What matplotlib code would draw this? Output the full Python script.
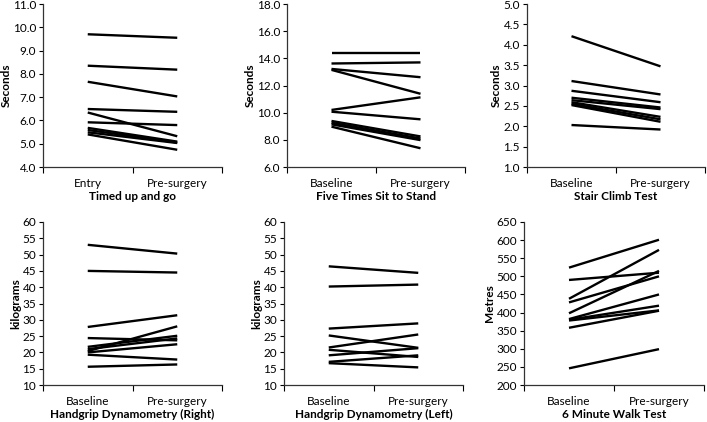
import matplotlib
matplotlib.use("Agg")
import matplotlib.pyplot as plt

plt.rcParams['font.family'] = ['Lato', 'DejaVu Sans']

# Timed up and go (seconds)
tug_entry = [9.70, 8.35, 7.66, 6.49, 6.34, 5.92, 5.68, 5.59, 5.49, 5.40]
tug_pre = [9.55, 8.18, 7.03, 6.37, 5.32, 5.80, 5.09, 5.05, 5.03, 4.74]

# Five times sit to stand (seconds)
ftsts_base = [14.42, 13.62, 13.22, 13.15, 10.20, 10.07, 9.39, 9.26, 9.14, 8.97]
ftsts_pre = [14.42, 13.70, 12.61, 11.39, 11.13, 9.51, 8.25, 8.10, 7.98, 7.38]

# Stair climb test (seconds)
sct_base = [4.21, 3.11, 2.87, 2.70, 2.64, 2.59, 2.55, 2.52, 2.03]
sct_pre = [3.47, 2.78, 2.59, 2.46, 2.42, 2.23, 2.17, 2.11, 1.92]

# Handgrip right (kg)
hgr_base = [53.0, 45.0, 27.8, 24.4, 21.7, 20.4, 21.0, 20.0, 19.3, 15.6]
hgr_pre = [50.3, 44.5, 31.4, 23.7, 25.1, 28.0, 24.3, 22.5, 17.8, 16.3]

# Handgrip left (kg)
hgl_base = [46.4, 40.2, 27.3, 25.2, 21.5, 20.8, 19.1, 17.1, 16.7]
hgl_pre = [44.4, 40.8, 28.9, 21.4, 25.5, 18.6, 21.3, 19.1, 15.4]

# 6 minute walk test (metres)
mwt_base = [524, 490, 438, 428, 398, 382, 380, 378, 358, 246]
mwt_pre = [601, 510, 573, 500, 515, 450, 419, 406, 405, 299]

panels = [
    ("Timed up and go", "Seconds", ["Entry", "Pre-surgery"], tug_entry, tug_pre,
     (4, 11), 1.0, "{:.1f}"),
    ("Five Times Sit to Stand", "Seconds", ["Baseline", "Pre-surgery"], ftsts_base, ftsts_pre,
     (6, 18), 2.0, "{:.1f}"),
    ("Stair Climb Test", "Seconds", ["Baseline", "Pre-surgery"], sct_base, sct_pre,
     (1, 5), 0.5, "{:.1f}"),
    ("Handgrip Dynamometry (Right)", "kilograms", ["Baseline", "Pre-surgery"], hgr_base, hgr_pre,
     (10, 60), 5, "{:.0f}"),
    ("Handgrip Dynamometry (Left)", "kilograms", ["Baseline", "Pre-surgery"], hgl_base, hgl_pre,
     (10, 60), 5, "{:.0f}"),
    ("6 Minute Walk Test", "Metres", ["Baseline", "Pre-surgery"], mwt_base, mwt_pre,
     (200, 650), 50, "{:.0f}"),
]

W, H = 707, 422
# axes boxes in pixels: left, right, top, bottom
boxes = [
    (43, 222, 4, 167), (287, 465, 4, 167), (527, 705, 4, 167),
    (43, 222, 222, 385), (284, 463, 222, 385), (524, 704, 222, 385),
]

fig = plt.figure(figsize=(W / 100, H / 100), dpi=100)

for (title, ylab, cats, before, after, ylim, step, fmt), (l, r, t, b) in zip(panels, boxes):
    ax = fig.add_axes([l / W, 1 - b / H, (r - l) / W, (b - t) / H])
    for v0, v1 in zip(before, after):
        ax.plot([0.5, 1.5], [v0, v1], color='black', lw=1.7, solid_capstyle='butt')
    ax.set_xlim(0, 2)
    ax.set_ylim(*ylim)
    n = int(round((ylim[1] - ylim[0]) / step))
    yt = [ylim[0] + i * step for i in range(n + 1)]
    ax.set_yticks(yt)
    ax.set_yticklabels([fmt.format(v) for v in yt])
    ax.set_xticks([0, 1, 2])
    ax.set_xticklabels([])
    ax.set_xticks([0.5, 1.5], minor=True)
    ax.set_xticklabels(cats, minor=True)
    ax.tick_params(axis='x', which='minor', length=0, pad=8, labelsize=8.5)
    ax.tick_params(axis='x', which='major', direction='out', length=4, width=0.8)
    ax.tick_params(axis='y', direction='out', length=3, width=0.8, labelsize=8.5, pad=2)
    for s in ['top', 'right']:
        ax.spines[s].set_visible(False)
    for s in ['left', 'bottom']:
        ax.spines[s].set_color('#333333')
        ax.spines[s].set_linewidth(0.9)
    ax.set_ylabel(ylab, fontsize=8.5, fontweight='bold', labelpad=1)
    ax.set_xlabel(title, fontsize=8.5, fontweight='bold', labelpad=1.5)

fig.savefig("out.png", dpi=100)
